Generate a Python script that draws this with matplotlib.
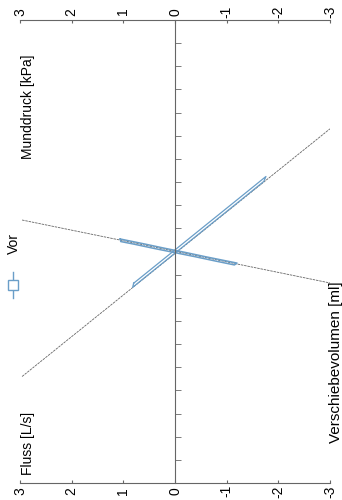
import numpy as np
import matplotlib.pyplot as plt
from matplotlib.ticker import MultipleLocator

plt.rcParams['font.family'] = ['Liberation Sans', 'DejaVu Sans']

# axis ticks (Fluss / Munddruck share the same -3..3 scale)
ticks = [3, 2, 1, 0, -1, -2, -3]
tick_labels = ["3", "2", "1", "0", "-1", "-2", "-3"]

# straight reference lines (value, volume)
line_fluss_x = [2.96, -3.0]
line_fluss_y = [-0.54, 0.53]
line_druck_x = [2.96, -3.0]
line_druck_y = [0.136, -0.136]

# measured loop along the steep line
loop_a_x = [0.80, 0.40, 0.00, -0.40, -0.80, -1.20, -1.50, -1.76,
            -1.72, -1.30, -0.90, -0.50, -0.10, 0.30, 0.70, 0.82, 0.80]
loop_a_y = [-0.137, -0.065, 0.007, 0.079, 0.151, 0.223, 0.277, 0.324,
            0.303, 0.227, 0.155, 0.083, 0.011, -0.061, -0.133, -0.155, -0.137]

# measured loop along the flat line
loop_b_x = [1.06, 0.60, 0.20, -0.20, -0.60, -1.00, -1.20,
            -1.15, -0.80, -0.40, 0.00, 0.40, 0.80, 1.05, 1.06]
loop_b_y = [0.054, 0.033, 0.014, -0.004, -0.023, -0.041, -0.050,
            -0.058, -0.042, -0.023, -0.005, 0.013, 0.032, 0.043, 0.054]

blue = "#6a9ec8"
grey = "#666666"

fig = plt.figure(figsize=(3.42, 5.0), dpi=100)
ax = fig.add_axes([20/342, 17/500, 310/342, 463/500])
ax.set_xlim(3, -3)
ax.set_ylim(-1, 1)

ax.plot(line_fluss_x, line_fluss_y, color=grey, lw=0.6, ls=(0, (3, 1)))
ax.plot(line_druck_x, line_druck_y, color=grey, lw=0.6, ls=(0, (3, 1)))
ax.plot(loop_a_x, loop_a_y, color=blue, lw=0.9)
ax.plot(loop_b_x, loop_b_y, color=blue, lw=1.1)

# spines: top and bottom carry the scales, the vertical one sits at 0
for s in ['top', 'bottom']:
    ax.spines[s].set_color(grey)
    ax.spines[s].set_linewidth(0.8)
    ax.spines[s].set_linestyle((0, (3, 1)))
ax.spines['right'].set_visible(False)
ax.spines['left'].set_position(('data', 0))
ax.spines['left'].set_color(grey)
ax.spines['left'].set_linewidth(0.8)
ax.spines['left'].set_linestyle((0, (3, 1)))

ax.set_xticks(ticks)
ax.set_xticklabels(tick_labels, rotation=90, va='center', ha='center')
ax.tick_params(axis='x', top=True, labeltop=True, bottom=True, labelbottom=True,
               length=2, direction='in', color=grey, labelsize=10, pad=6)
ax.yaxis.set_major_locator(MultipleLocator(0.1))
ax.tick_params(axis='y', left=True, labelleft=False, length=4, direction='in',
               color=grey, width=0.6)

fig.text(28/342, 1 - 107/500, "Munddruck [kPa]", rotation=90, ha='center', va='center', fontsize=10)
fig.text(28/342, 1 - 443/500, "Fluss [L/s]", rotation=90, ha='center', va='center', fontsize=10)
fig.text(336/342, 1 - 362/500, "Verschiebevolumen [ml]", rotation=90, ha='center', va='center', fontsize=11)

# legend, rotated like the rest of the sheet
fig.text(14/342, 1 - 243/500, "Vor", rotation=90, ha='center', va='center', fontsize=10)
fig.add_artist(plt.Line2D([13/342, 13/342], [1 - 298/500, 1 - 272/500], color=blue, lw=1))
fig.add_artist(plt.Line2D([13/342], [1 - 285/500], marker='s', markersize=6.5,
                          markerfacecolor='white', markeredgecolor=blue, lw=0))

fig.savefig("out.png", dpi=100)
